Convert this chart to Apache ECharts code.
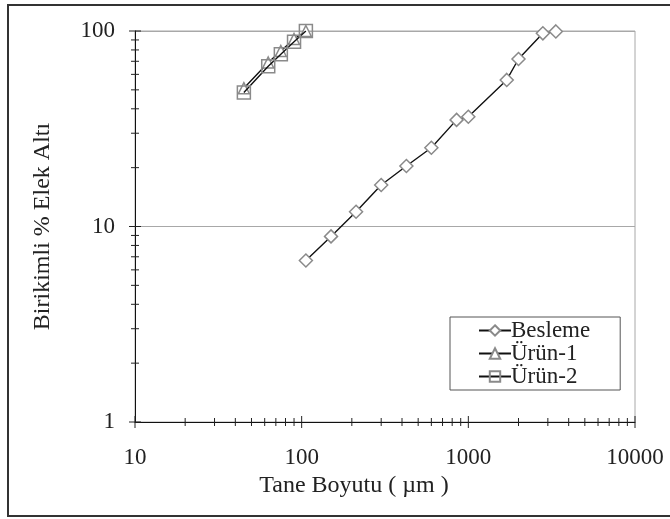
<!DOCTYPE html>
<html>
<head>
<meta charset="utf-8">
<script src="https://cdn.jsdelivr.net/npm/echarts@6/dist/echarts.min.js"></script>
<style>html,body{margin:0;padding:0;background:#fff}#c{width:670px;height:519px}</style>
</head>
<body>
<div id="c"></div>
<script>
// ---- data ----
const besX = [106, 150, 212, 300, 425, 600, 850, 1000, 1700, 2000, 2800, 3350];
const besY = [6.7, 8.9, 11.9, 16.3, 20.4, 25.3, 35.1, 36.4, 56.2, 71.9, 97.3, 99.5];
const urun1X = [45, 63, 75, 90, 106];
const urun1Y = [51, 69, 79, 91, 100];
const urun2X = [45, 63, 75, 90, 106];
const urun2Y = [48.5, 66, 76, 88, 100];
const xTickVals = [10, 20, 30, 40, 50, 60, 70, 80, 90, 100, 200, 300, 400, 500, 600, 700, 800, 900, 1000, 2000, 3000, 4000, 5000, 6000, 7000, 8000, 9000, 10000];
const yTickVals = [1, 2, 3, 4, 5, 6, 7, 8, 9, 10, 20, 30, 40, 50, 60, 70, 80, 90, 100];
const seriesNames = ['Besleme', 'Ürün-1', 'Ürün-2'];
const xTitle = 'Tane Boyutu ( µm )';
const yTitle = 'Birikimli % Elek Altı';

const zip = (a, b) => a.map((v, i) => [v, b[i]]);
const FONT = 'Liberation Serif';
const isMajor = v => Math.abs(Math.log10(v) - Math.round(Math.log10(v))) < 1e-9;

const chart = echarts.init(document.getElementById('c'), null, {renderer: 'canvas'});
const lineStyle = {color: '#111', width: 1.4};
const markStyle = {color: '#fff', borderColor: '#8a8a8a', borderWidth: 1.5};

chart.setOption({
  animation: false,
  backgroundColor: '#fff',
  graphic: [{
    type: 'rect', z: 100, silent: true,
    shape: {x: 8, y: 5, width: 700, height: 511},
    style: {fill: 'none', stroke: '#333', lineWidth: 2}
  }],
  grid: {left: 135, right: 35, top: 31, bottom: 97, show: true, borderColor: '#a8a8a8', borderWidth: 1, containLabel: false},
  legend: {
    data: seriesNames,
    orient: 'vertical',
    left: 450, top: 317,
    padding: [2, 30, 2, 28],
    itemGap: 0,
    itemWidth: 32, itemHeight: 13,
    borderColor: '#555', borderWidth: 1,
    backgroundColor: '#fff',
    textStyle: {fontFamily: FONT, fontSize: 23, color: '#222', padding: [0, 0, 0, -5]}
  },
  xAxis: {
    type: 'log', logBase: 10, min: 10, max: 10000,
    axisLine: {show: true, lineStyle: {color: '#111', width: 1}},
    axisTick: {show: false},
    minorTick: {show: false},
    splitLine: {show: false},
    axisLabel: {fontFamily: FONT, fontSize: 23, color: '#222', margin: 24, formatter: v => String(Math.round(v))},
    name: xTitle, nameLocation: 'middle', nameGap: 52,
    nameTextStyle: {fontFamily: FONT, fontSize: 24, color: '#222', padding: [0, 62, 0, 0]}
  },
  yAxis: {
    type: 'log', logBase: 10, min: 1, max: 100,
    axisLine: {show: true, lineStyle: {color: '#111', width: 1}},
    axisTick: {show: false},
    minorTick: {show: false},
    splitLine: {show: true, lineStyle: {color: '#a8a8a8', width: 1}},
    axisLabel: {fontFamily: FONT, fontSize: 23, color: '#222', margin: 20, formatter: v => String(Math.round(v))},
    name: yTitle, nameLocation: 'middle', nameGap: 80,
    nameTextStyle: {fontFamily: FONT, fontSize: 24, color: '#222'}
  },
  series: [
    {
      name: 'Besleme', type: 'line', data: zip(besX, besY), smooth: false,
      symbol: 'diamond', symbolSize: 13, showAllSymbol: true,
      lineStyle: lineStyle, itemStyle: markStyle, z: 3
    },
    {
      name: 'Ürün-1', type: 'line', data: zip(urun1X, urun1Y),
      symbol: 'triangle', symbolSize: 11, showAllSymbol: true,
      lineStyle: lineStyle, itemStyle: markStyle, z: 3
    },
    {
      name: 'Ürün-2', type: 'line', data: zip(urun2X, urun2Y),
      symbol: 'rect', symbolSize: 13, showAllSymbol: true,
      lineStyle: lineStyle, itemStyle: {color: 'rgba(255,255,255,0)', borderColor: '#8a8a8a', borderWidth: 1.5}, z: 4
    },
    {
      type: 'custom', silent: true, clip: false, z: 10,
      data: xTickVals.map(v => [v, 1]),
      renderItem: (params, api) => {
        const v = api.value(0);
        const p = api.coord([v, api.value(1)]);
        const h = isMajor(v) ? 6 : 4;
        return {type: 'line', shape: {x1: p[0], y1: p[1] - h, x2: p[0], y2: p[1] + h}, style: {stroke: '#222', lineWidth: 1}};
      }
    },
    {
      type: 'custom', silent: true, clip: false, z: 10,
      data: yTickVals.map(v => [10, v]),
      renderItem: (params, api) => {
        const v = api.value(1);
        const p = api.coord([api.value(0), v]);
        const w = isMajor(v) ? 6 : 4;
        return {type: 'line', shape: {x1: p[0] - w, y1: p[1], x2: p[0] + w, y2: p[1]}, style: {stroke: '#222', lineWidth: 1}};
      }
    }
  ]
});
</script>
</body>
</html>
